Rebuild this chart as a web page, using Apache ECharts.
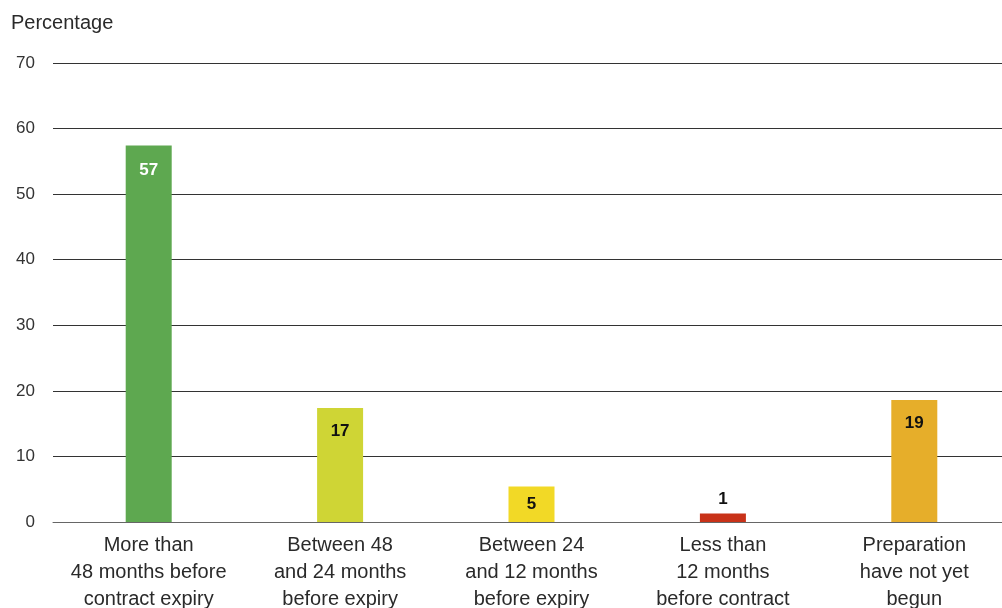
<!DOCTYPE html>
<html>
<head>
<meta charset="utf-8">
<script src="https://cdn.jsdelivr.net/npm/echarts@6/dist/echarts.min.js"></script>
<style>
html,body{margin:0;padding:0;background:#fff;}
#chart{width:1002px;height:608px;}
</style>
</head>
<body>
<div id="chart"></div>
<script>
var categories = [
  "More than\n48 months before\ncontract expiry",
  "Between 48\nand 24 months\nbefore expiry",
  "Between 24\nand 12 months\nbefore expiry",
  "Less than\n12 months\nbefore contract\nexpiry",
  "Preparation\nhave not yet\nbegun"
];
var values = [57.4, 17.4, 5.4, 1.3, 18.6];
var barColors = ["#5ea850", "#cfd535", "#f2d926", "#c83219", "#e6ae2a"];
var labelColors = ["#ffffff", "#111111", "#111111", "#111111", "#111111"];
var labelPositions = ["insideTop", "insideTop", "inside", "top", "insideTop"];
var labelDistances = [16, 15, 5, 6, 15];
var yTicks = [0, 10, 20, 30, 40, 50, 60, 70];

var FONT = "Liberation Sans";
var chart = echarts.init(document.getElementById('chart'), null, {renderer: 'canvas'});
var data = values.map(function (v, i) {
  return {
    value: v,
    itemStyle: {color: barColors[i]},
    label: {
      position: labelPositions[i],
      distance: labelDistances[i],
      color: labelColors[i]
    }
  };
});
chart.setOption({
  animation: false,
  backgroundColor: '#ffffff',
  title: {
    text: 'Percentage',
    left: 11, top: 13, padding: 0,
    textStyle: {fontFamily: FONT, fontSize: 20, fontWeight: 'normal', color: '#2a2a2a'}
  },
  grid: {left: 53, right: -8, top: 63, bottom: 86, containLabel: false, outerBoundsMode: 'none'},
  xAxis: {
    type: 'category',
    data: categories,
    axisLine: {show: true, lineStyle: {color: '#666', width: 1}},
    axisTick: {show: false},
    axisLabel: {
      interval: 0, margin: 10,
      fontFamily: FONT, fontSize: 20, lineHeight: 27, color: '#2a2a2a'
    },
    z: 3
  },
  yAxis: {
    type: 'value',
    min: yTicks[0], max: yTicks[yTicks.length - 1], interval: 10,
    axisLine: {show: false},
    axisTick: {show: false},
    axisLabel: {fontFamily: FONT, fontSize: 17, color: '#333', margin: 18},
    splitLine: {show: true, lineStyle: {color: '#333', width: 1}}
  },
  series: [{
    type: 'bar',
    data: data,
    barWidth: 46,
    label: {
      show: true,
      fontFamily: FONT, fontSize: 17, fontWeight: 'bold',
      formatter: function (p) { return Math.round(p.value); }
    }
  }]
});
</script>
</body>
</html>
